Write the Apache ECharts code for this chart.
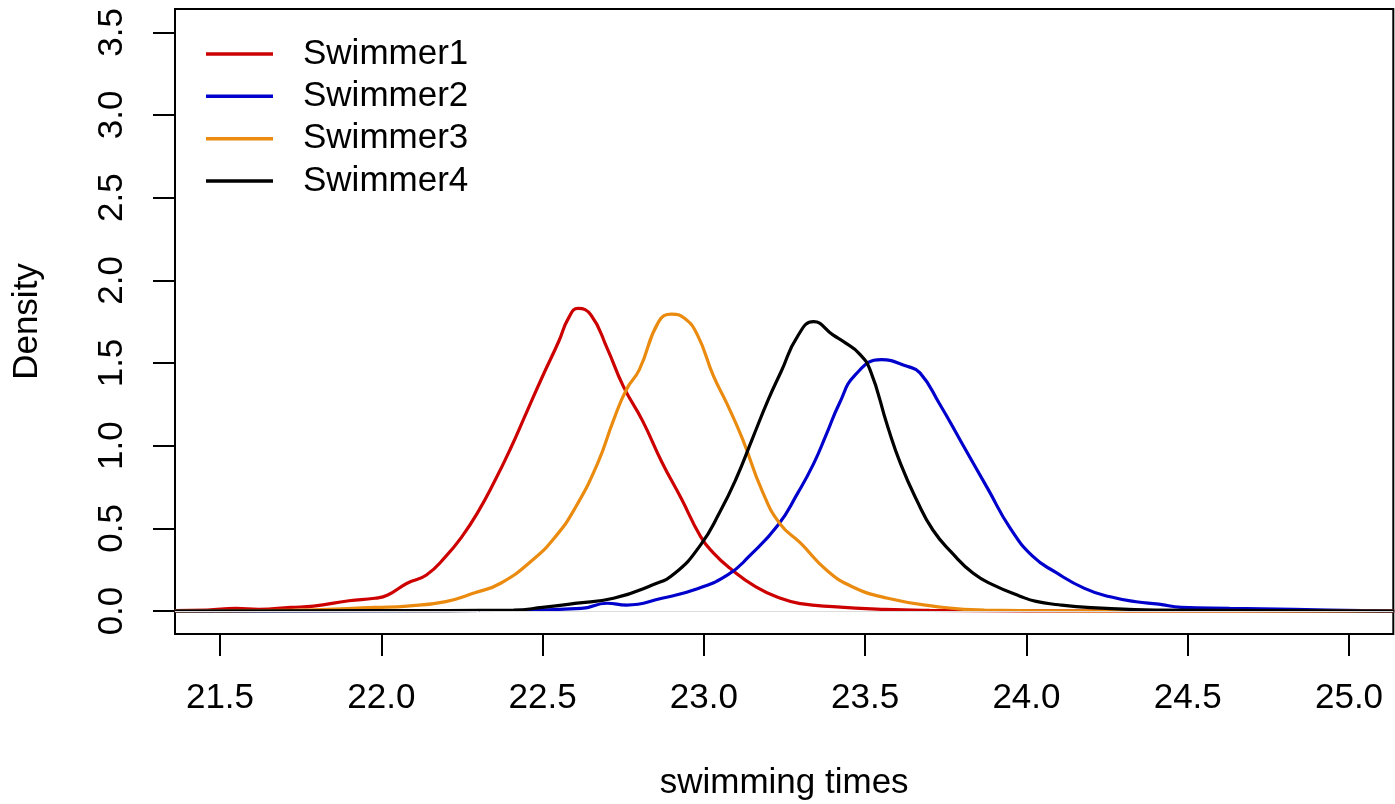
<!DOCTYPE html>
<html>
<head>
<meta charset="utf-8">
<script src="https://cdn.jsdelivr.net/npm/echarts@6/dist/echarts.min.js"></script>
<style>
  html, body { margin: 0; padding: 0; background: #fff; }
  #chart { width: 1395px; height: 804px; }
</style>
</head>
<body>
<div id="chart"></div>
<script>
// density estimates (x = time, y = density)
const swimmer1X = [21.36, 21.46, 21.55, 21.62, 21.72, 21.79, 21.90, 21.98, 22.02, 22.08, 22.14, 22.20, 22.25, 22.30, 22.35, 22.40, 22.45, 22.50, 22.55, 22.58, 22.61, 22.65, 22.70, 22.75, 22.81, 22.87, 22.93, 22.99, 23.03, 23.08, 23.16, 23.24, 23.30, 23.40, 23.56, 23.70, 24.00, 25.14];
const swimmer1Y = [0.003, 0.006, 0.016, 0.010, 0.022, 0.030, 0.062, 0.077, 0.097, 0.168, 0.218, 0.33, 0.45, 0.60, 0.78, 0.98, 1.20, 1.42, 1.63, 1.77, 1.83, 1.79, 1.59, 1.36, 1.15, 0.90, 0.68, 0.45, 0.35, 0.26, 0.148, 0.075, 0.045, 0.026, 0.010, 0.004, 0.001, 0];

const swimmer2X = [21.36, 22.40, 22.62, 22.70, 22.76, 22.87, 22.98, 23.075, 23.14, 23.23, 23.29, 23.34, 23.38, 23.42, 23.47, 23.55, 23.63, 23.67, 23.73, 23.80, 23.88, 23.95, 24.02, 24.09, 24.18, 24.26, 24.34, 24.41, 24.48, 24.63, 24.83, 25.04, 25.14];
const swimmer2Y = [0, 0.003, 0.016, 0.047, 0.036, 0.077, 0.135, 0.22, 0.33, 0.52, 0.71, 0.89, 1.07, 1.255, 1.43, 1.52, 1.48, 1.44, 1.255, 1.015, 0.74, 0.50, 0.33, 0.235, 0.137, 0.086, 0.056, 0.042, 0.022, 0.016, 0.010, 0.002, 0];

const swimmer3X = [21.36, 21.77, 21.98, 22.08, 22.20, 22.29, 22.37, 22.47, 22.54, 22.60, 22.67, 22.72, 22.76, 22.80, 22.86, 22.90, 22.94, 22.98, 23.03, 23.07, 23.12, 23.18, 23.235, 23.30, 23.38, 23.46, 23.57, 23.71, 23.87, 24.20, 25.14];
const swimmer3Y = [0, 0.006, 0.022, 0.030, 0.057, 0.11, 0.168, 0.31, 0.45, 0.62, 0.89, 1.155, 1.34, 1.46, 1.75, 1.795, 1.77, 1.67, 1.42, 1.26, 1.04, 0.73, 0.53, 0.41, 0.248, 0.147, 0.077, 0.03, 0.005, 0.001, 0];

const swimmer4X = [21.36, 22.00, 22.41, 22.50, 22.60, 22.72, 22.84, 22.91, 22.99, 23.05, 23.10, 23.15, 23.20, 23.24, 23.29, 23.34, 23.40, 23.44, 23.48, 23.515, 23.57, 23.61, 23.66, 23.71, 23.77, 23.835, 23.90, 23.98, 24.03, 24.10, 24.20, 24.30, 24.40, 25.14];
const swimmer4Y = [0, 0.002, 0.006, 0.022, 0.046, 0.077, 0.157, 0.228, 0.40, 0.60, 0.80, 1.04, 1.28, 1.45, 1.66, 1.75, 1.67, 1.62, 1.56, 1.46, 1.115, 0.89, 0.67, 0.49, 0.35, 0.228, 0.155, 0.09, 0.058, 0.038, 0.02, 0.012, 0.006, 0];

const seriesNames = ['Swimmer1', 'Swimmer2', 'Swimmer3', 'Swimmer4'];
const seriesColors = ['#cd0000', '#0000cd', '#ea8a0e', '#000000'];
const xTicks = [21.5, 22.0, 22.5, 23.0, 23.5, 24.0, 24.5, 25.0];
const yTicks = [0, 0.5, 1.0, 1.5, 2.0, 2.5, 3.0, 3.5];

const pairs = (xs, ys) => xs.map((x, i) => [x, ys[i]]);
const curves = [
  pairs(swimmer1X, swimmer1Y),
  pairs(swimmer2X, swimmer2Y),
  pairs(swimmer3X, swimmer3Y),
  pairs(swimmer4X, swimmer4Y)
];

const FONT = 'Liberation Sans';
const chart = echarts.init(document.getElementById('chart'));

chart.setOption({
  animation: false,
  backgroundColor: '#fff',
  textStyle: { fontFamily: FONT },
  grid: {
    left: 175, right: 1.7, top: 9, bottom: 170,
    show: true, borderColor: '#000', borderWidth: 2,
    containLabel: false, outerBoundsMode: 'none'
  },
  legend: {
    orient: 'vertical',
    left: 206,
    top: 36.5,
    padding: 0,
    itemWidth: 67,
    itemHeight: 3.5,
    itemGap: 7.35,
    icon: 'rect',
    selectedMode: false,
    textStyle: { fontSize: 35, color: '#000', fontFamily: FONT, padding: [0, 0, 0, 25] },
    data: seriesNames
  },
  xAxis: {
    type: 'value',
    min: 21.3605,
    max: 25.1373,
    name: 'swimming times',
    nameLocation: 'middle',
    nameGap: 132,
    nameMoveOverlap: false,
    nameTextStyle: { fontSize: 35, color: '#000', fontFamily: FONT },
    axisLine: { show: false, onZero: false },
    splitLine: { show: false },
    axisTick: {
      show: true, inside: false, length: 22,
      customValues: xTicks,
      lineStyle: { color: '#000', width: 2 }
    },
    axisLabel: {
      customValues: xTicks,
      margin: 47,
      fontSize: 35,
      color: '#000',
      fontFamily: FONT,
      formatter: v => v.toFixed(1)
    }
  },
  yAxis: {
    type: 'value',
    min: -0.139,
    max: 3.641,
    name: 'Density',
    nameLocation: 'middle',
    nameGap: 130,
    nameMoveOverlap: false,
    nameTextStyle: { fontSize: 35, color: '#000', fontFamily: FONT },
    axisLine: { show: false, onZero: false },
    splitLine: { show: false },
    axisTick: {
      show: true, inside: false, length: 22,
      customValues: yTicks,
      lineStyle: { color: '#000', width: 2 }
    },
    axisLabel: {
      customValues: yTicks,
      rotate: 90,
      margin: 45,
      fontSize: 35,
      color: '#000',
      fontFamily: FONT,
      formatter: v => v.toFixed(1)
    }
  },
  series: curves.map((data, i) => ({
    name: seriesNames[i],
    type: 'line',
    data: data,
    smooth: 0.5,
    showSymbol: false,
    color: seriesColors[i],
    lineStyle: { color: seriesColors[i], width: 3.2 },
    emphasis: { disabled: true },
    silent: true,
    markLine: i === 0 ? {
      silent: true,
      symbol: 'none',
      label: { show: false },
      lineStyle: { color: '#dcdcdc', width: 1, type: 'solid' },
      data: [{ yAxis: 0 }]
    } : undefined
  }))
});

window.addEventListener('resize', () => chart.resize());
</script>
</body>
</html>
